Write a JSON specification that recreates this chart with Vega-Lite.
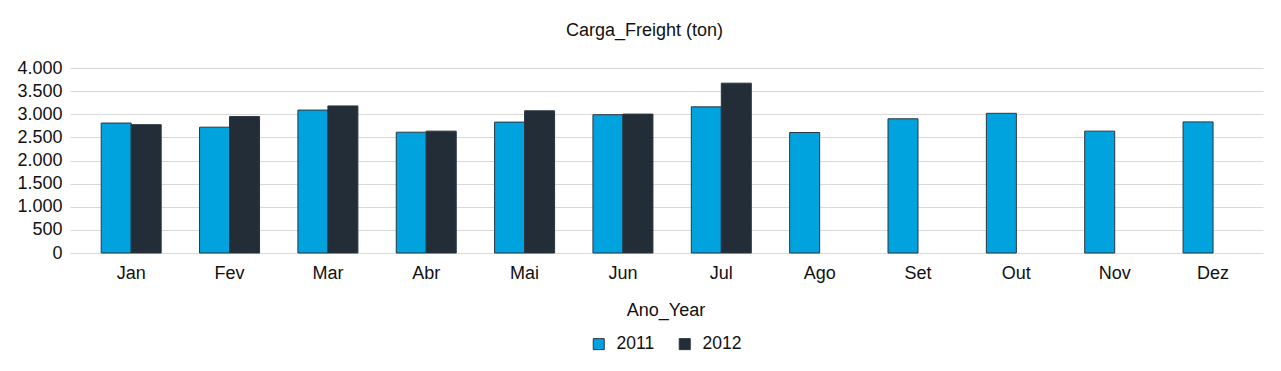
{
  "$schema": "https://vega.github.io/schema/vega-lite/v6.json",
  "width": 1193,
  "height": 185,
  "autosize": {"type": "none"},
  "padding": {"left": 70, "top": 68, "right": 18, "bottom": 118},
  "title": {
    "text": "Carga_Freight (ton)",
    "font": "Liberation Sans",
    "fontSize": 18,
    "fontWeight": "normal",
    "color": "#111111",
    "anchor": "middle",
    "baseline": "alphabetic",
    "offset": 35,
    "dx": -22,
    "dy": 30
  },
  "data": {
    "values": [
      {"mes": "Jan", "ano": "2011", "carga": 2810},
      {"mes": "Jan", "ano": "2012", "carga": 2775},
      {"mes": "Fev", "ano": "2011", "carga": 2720},
      {"mes": "Fev", "ano": "2012", "carga": 2950},
      {"mes": "Mar", "ano": "2011", "carga": 3090},
      {"mes": "Mar", "ano": "2012", "carga": 3180},
      {"mes": "Abr", "ano": "2011", "carga": 2612},
      {"mes": "Abr", "ano": "2012", "carga": 2635},
      {"mes": "Mai", "ano": "2011", "carga": 2830},
      {"mes": "Mai", "ano": "2012", "carga": 3075},
      {"mes": "Jun", "ano": "2011", "carga": 2990},
      {"mes": "Jun", "ano": "2012", "carga": 3003},
      {"mes": "Jul", "ano": "2011", "carga": 3160},
      {"mes": "Jul", "ano": "2012", "carga": 3672},
      {"mes": "Ago", "ano": "2011", "carga": 2605},
      {"mes": "Set", "ano": "2011", "carga": 2902},
      {"mes": "Out", "ano": "2011", "carga": 3020},
      {"mes": "Nov", "ano": "2011", "carga": 2635},
      {"mes": "Dez", "ano": "2011", "carga": 2835}
    ]
  },
  "mark": {"type": "bar", "stroke": "#2a3540", "strokeWidth": 1},
  "encoding": {
    "x": {
      "field": "mes",
      "type": "nominal",
      "sort": ["Jan", "Fev", "Mar", "Abr", "Mai", "Jun", "Jul", "Ago", "Set", "Out", "Nov", "Dez"],
      "scale": {"domain": ["Jan", "Fev", "Mar", "Abr", "Mai", "Jun", "Jul", "Ago", "Set", "Out", "Nov", "Dez"], "paddingInner": 0.39, "paddingOuter": 0.26, "align": 0.61},
      "axis": {"title": null, "labelAngle": 0, "labelFont": "Liberation Sans", "labelFontSize": 18, "labelColor": "#111111", "labelPadding": 11, "ticks": false, "domain": false}
    },
    "xOffset": {"field": "ano", "type": "nominal", "scale": {"domain": ["2011", "2012"], "paddingInner": 0, "paddingOuter": 0}},
    "y": {
      "field": "carga",
      "type": "quantitative",
      "scale": {"domain": [0, 4000]},
      "axis": {"title": null, "values": [0, 500, 1000, 1500, 2000, 2500, 3000, 3500, 4000], "format": ",d", "labelFont": "Liberation Sans", "labelFontSize": 18, "labelColor": "#111111", "labelPadding": 8, "ticks": false, "domain": false, "gridColor": "#d9d9d9", "gridWidth": 1}
    },
    "color": {
      "field": "ano",
      "type": "nominal",
      "scale": {"domain": ["2011", "2012"], "range": ["#00a3dd", "#222d37"]},
      "legend": {
        "title": "Ano_Year",
        "orient": "none",
        "legendX": 520,
        "legendY": 234,
        "direction": "horizontal",
        "padding": 0,
        "titleFont": "Liberation Sans",
        "titleFontSize": 18,
        "titleFontWeight": "normal",
        "titleColor": "#111111",
        "titleAnchor": "middle",
        "titlePadding": 15,
        "labelFont": "Liberation Sans",
        "labelFontSize": 17.5,
        "labelColor": "#111111",
        "labelOffset": 9,
        "columnPadding": 21,
        "symbolType": "square",
        "symbolSize": 121,
        "symbolStrokeColor": "#2a3540",
        "symbolStrokeWidth": 1,
        "symbolOpacity": 1
      }
    }
  },
  "config": {
    "locale": {"number": {"decimal": ",", "thousands": ".", "grouping": [3], "currency": ["R$", ""]}},
    "view": {"stroke": null}
  }
}
